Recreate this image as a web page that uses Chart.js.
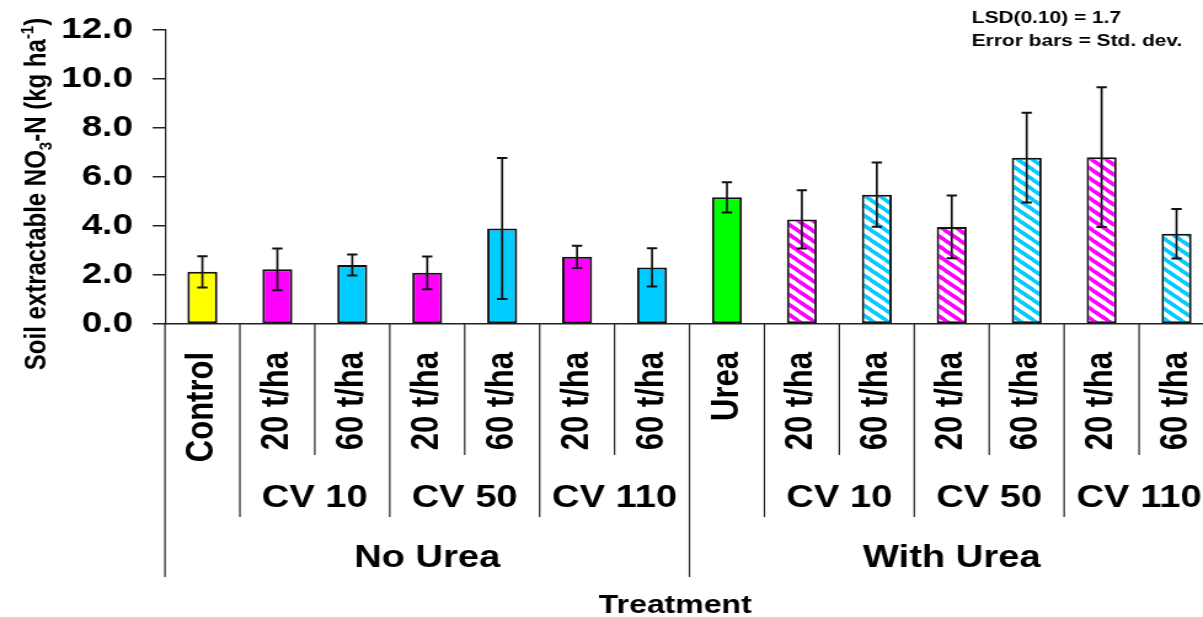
<!DOCTYPE html>
<html>
<head>
<meta charset="utf-8">
<script src="https://cdn.jsdelivr.net/npm/chart.js@4.4.1/dist/chart.umd.min.js"></script>
<style>
  html, body { margin: 0; padding: 0; background: #fff; overflow: hidden; width: 1203px; height: 617px; }
  #wrap { width: 1000px; height: 617px; transform: scaleX(1.23); transform-origin: 0 0; }
</style>
</head>
<body>
<div id="wrap"><canvas id="c" width="1000" height="617"></canvas></div>
<script>
// ---- data ----
const categories = ["Control", "20 t/ha", "60 t/ha", "20 t/ha", "60 t/ha", "20 t/ha", "60 t/ha",
                    "Urea", "20 t/ha", "60 t/ha", "20 t/ha", "60 t/ha", "20 t/ha", "60 t/ha"];
const meanNO3 = [2.13, 2.23, 2.41, 2.09, 3.90, 2.74, 2.31, 5.17, 4.27, 5.28, 3.96, 6.79, 6.81, 3.68];
const stdDev  = [0.64, 0.85, 0.43, 0.67, 2.88, 0.45, 0.78, 0.62, 1.19, 1.31, 1.28, 1.83, 2.85, 1.01];
const groupLabels = ["CV 10", "CV 50", "CV 110", "CV 10", "CV 50", "CV 110"];
const groupCenters = [1.5, 3.5, 5.5, 8.5, 10.5, 12.5];
const superLabels = ["No Urea", "With Urea"];
const superCenters = [3, 10];
const yTickValues = [0, 2, 4, 6, 8, 10, 12];
// boundary kinds: 0 = short, 1 = medium, 2 = long (index = boundary before category i)
const boundaryKinds = [2, 1, 0, 1, 0, 1, 0, 2, 1, 0, 1, 0, 1, 0, 2];
const fillKinds = ["yellow", "magenta", "cyan", "magenta", "cyan", "magenta", "cyan",
                   "green", "magentaHatch", "cyanHatch", "magentaHatch", "cyanHatch", "magentaHatch", "cyanHatch"];

// ---- styles ----
const FONT = "'Liberation Sans', Arial, sans-serif";
const MAGENTA = "#ff00ff", CYAN = "#00ccff";
function hatch(color) {
  const c = document.createElement("canvas");
  c.width = 12; c.height = 10;
  const g = c.getContext("2d");
  g.fillStyle = "#ffffff"; g.fillRect(0, 0, 12, 10);
  g.strokeStyle = color; g.lineWidth = 3.3;
  for (const x0 of [-12, 0, 12]) {
    g.beginPath(); g.moveTo(x0, 0); g.lineTo(x0 + 12, 10); g.stroke();
    g.beginPath(); g.moveTo(x0 - 12, -10); g.lineTo(x0 + 24, 20); g.stroke();
  }
  return g.createPattern(c, "repeat");
}
const fills = {
  yellow: "#ffff00", magenta: MAGENTA, cyan: CYAN, green: "#00ff00",
  magentaHatch: hatch(MAGENTA), cyanHatch: hatch(CYAN)
};

const decor = {
  id: "decor",
  afterDatasetsDraw(chart) {
    const ctx = chart.ctx, y = chart.scales.y;
    const meta = chart.getDatasetMeta(0);
    ctx.save();
    ctx.strokeStyle = "#111";
    meta.data.forEach((bar, i) => {
      const yt = y.getPixelForValue(meanNO3[i] + stdDev[i]);
      const yb = y.getPixelForValue(meanNO3[i] - stdDev[i]);
      ctx.lineWidth = 1.7;
      ctx.beginPath(); ctx.moveTo(bar.x, yt); ctx.lineTo(bar.x, yb); ctx.stroke();
      ctx.lineWidth = 2;
      ctx.beginPath();
      ctx.moveTo(bar.x - 4.2, yt); ctx.lineTo(bar.x + 4.2, yt);
      ctx.moveTo(bar.x - 4.2, yb); ctx.lineTo(bar.x + 4.2, yb);
      ctx.stroke();
    });
    ctx.restore();
  },
  afterDraw(chart) {
    const ctx = chart.ctx, x = chart.scales.x, area = chart.chartArea;
    const cw = x.getPixelForValue(1) - x.getPixelForValue(0);
    const ends = [455, 517, 577];
    ctx.save();
    ctx.strokeStyle = "#222"; ctx.lineWidth = 1.2;
    boundaryKinds.forEach((k, i) => {
      const bx = x.getPixelForValue(i) - cw / 2;
      ctx.beginPath(); ctx.moveTo(bx, area.bottom); ctx.lineTo(bx, ends[k]); ctx.stroke();
    });
    ctx.fillStyle = "#000"; ctx.textAlign = "center"; ctx.textBaseline = "alphabetic";
    ctx.font = "bold 31px " + FONT;
    groupLabels.forEach((t, i) => ctx.fillText(t, x.getPixelForValue(groupCenters[i]), 507));
    superLabels.forEach((t, i) => ctx.fillText(t, x.getPixelForValue(superCenters[i]), 567));
    ctx.font = "bold 26px " + FONT;
    ctx.fillText("Treatment", 549, 613);
    ctx.textAlign = "left";
    ctx.font = "bold 17px " + FONT;
    ctx.fillText("LSD(0.10) = 1.7", 790, 23);
    ctx.fillText("Error bars = Std. dev.", 790, 46);
    // y-axis title with subscript / superscript
    const parts = [
      ["Soil extractable NO", 24, 0], ["3", 15, 5], ["-N (kg ha", 24, 0], ["-1", 15, -10], [")", 24, 0]
    ];
    ctx.translate(36.5, 194);
    ctx.rotate(-Math.PI / 2);
    let total = 0;
    parts.forEach(p => { ctx.font = "bold " + p[1] + "px " + FONT; total += ctx.measureText(p[0]).width; });
    let cx = -total / 2;
    parts.forEach(p => {
      ctx.font = "bold " + p[1] + "px " + FONT;
      ctx.fillText(p[0], cx, p[2]);
      cx += ctx.measureText(p[0]).width;
    });
    ctx.restore();
  }
};

new Chart(document.getElementById("c"), {
  type: "bar",
  data: {
    labels: categories,
    datasets: [{
      data: meanNO3,
      backgroundColor: fillKinds.map(k => fills[k]),
      borderColor: "#111",
      borderWidth: 2,
      borderSkipped: false,
      barPercentage: 0.4,
      categoryPercentage: 1.0
    }]
  },
  options: {
    responsive: false,
    animation: false,
    devicePixelRatio: 1,
    layout: { padding: { top: 30, right: 13, left: 0, bottom: 0 } },
    plugins: { legend: { display: false }, tooltip: { enabled: false } },
    scales: {
      x: {
        afterFit: s => { s.height = 293; s.paddingLeft = 0; s.paddingRight = 0; },
        grid: { display: false },
        border: { display: true, color: "#222", width: 1.5 },
        ticks: {
          autoSkip: false, minRotation: 90, maxRotation: 90, padding: 20,
          color: "#000", font: { family: FONT, size: 31, weight: "bold" }
        }
      },
      y: {
        min: 0, max: 12,
        afterFit: s => { s.width = 134.1; s.paddingTop = 0; s.paddingBottom = 0; },
        afterBuildTicks: s => { s.ticks = yTickValues.map(v => ({ value: v })); },
        grid: { display: true, drawOnChartArea: false, drawTicks: true, tickLength: 10, color: "#222", lineWidth: 1.5 },
        border: { display: true, color: "#222", width: 1.2 },
        ticks: {
          padding: 16, color: "#000",
          font: { family: FONT, size: 30, weight: "bold" },
          callback: v => v.toFixed(1)
        }
      }
    }
  },
  plugins: [decor]
});
</script>
</body>
</html>
